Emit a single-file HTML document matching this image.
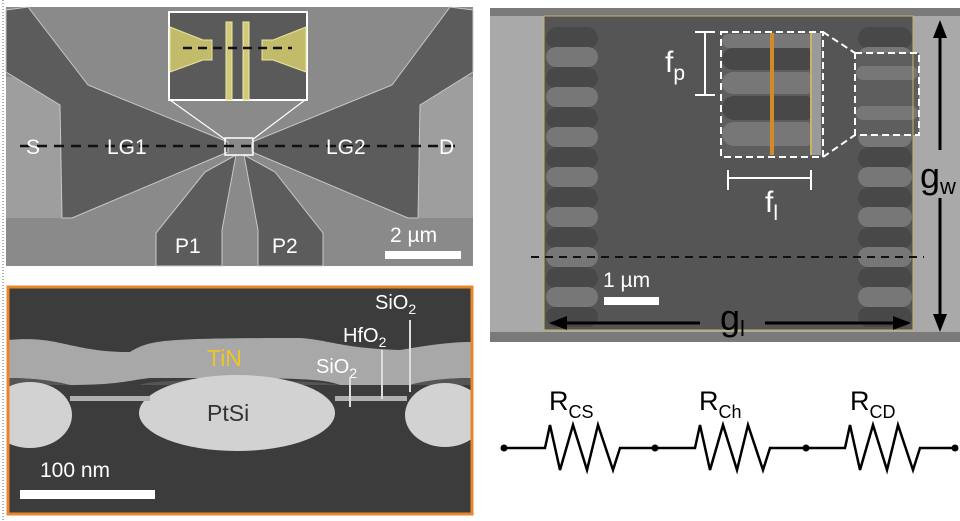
<!DOCTYPE html>
<html><head><meta charset="utf-8"><style>
html,body{margin:0;padding:0;background:#fff;}
svg{display:block;font-family:"Liberation Sans",sans-serif;}
</style></head><body>
<svg width="960" height="521" viewBox="0 0 960 521" xmlns="http://www.w3.org/2000/svg">
<defs><clipPath id="c2"><rect x="8" y="287" width="464" height="227"/></clipPath></defs>
<line x1="3" y1="0" x2="3" y2="521" stroke="#666" stroke-width="1" stroke-dasharray="1,2"/>
<!-- Panel 1 -->
<rect x="6" y="7" width="467" height="259" fill="#8a8a8a"/>
<rect x="6" y="77" width="56" height="141" fill="#9e9e9e"/>
<rect x="418" y="77" width="55" height="141" fill="#9e9e9e"/>
<polygon points="6,10 28,7 88,85 228,142 228,152 72,218 62,218 60,105 6,72" fill="#5c5c5c" stroke="#c8c8c8" stroke-width="1"/>
<polygon points="473,10 450,7 392,85 252,142 252,152 408,218 418,218 420,105 473,72" fill="#5c5c5c" stroke="#c8c8c8" stroke-width="1"/>
<polygon points="156,266 156,233 205,172 236,155 222,230 222,266" fill="#5c5c5c" stroke="#c8c8c8" stroke-width="1"/>
<polygon points="258,266 258,230 244,155 275,172 323,233 323,266" fill="#5c5c5c" stroke="#c8c8c8" stroke-width="1"/>
<line x1="170" y1="100" x2="226" y2="140" stroke="#fff" stroke-width="1.2"/>
<line x1="305" y1="100" x2="252" y2="140" stroke="#fff" stroke-width="1.2"/>
<rect x="169" y="12" width="138" height="88" fill="#5a5a5a" stroke="#fff" stroke-width="2"/>
<polygon points="170,27 203,40 212,40 212,60 203,60 170,72" fill="#c2bc6a" stroke="#e8e4a0"/>
<polygon points="306,27 273,40 262,40 262,60 273,60 306,72" fill="#c2bc6a" stroke="#e8e4a0"/>
<rect x="226" y="22" width="6" height="78" fill="#d0ca78" stroke="#eee8b0"/>
<rect x="243" y="22" width="6" height="78" fill="#d0ca78" stroke="#eee8b0"/>
<line x1="183" y1="48" x2="292" y2="48" stroke="#111" stroke-width="2.5" stroke-dasharray="9,6"/>
<rect x="225" y="138" width="28" height="17" fill="none" stroke="#fff" stroke-width="1.5"/>
<line x1="20" y1="146" x2="455" y2="146" stroke="#111" stroke-width="2.5" stroke-dasharray="10,7"/>
<g fill="#fff" font-size="21">
<text x="26" y="154">S</text><text x="107" y="154">LG1</text>
<text x="326" y="154">LG2</text><text x="439" y="154">D</text>
<text x="175" y="253">P1</text><text x="272" y="253">P2</text>
<text x="390" y="242">2 µm</text>
</g>
<rect x="385" y="251" width="76" height="8" fill="#fff"/>
<!-- Panel 2 -->
<rect x="8" y="287" width="464" height="227" fill="#3c3c3c"/>
<g clip-path="url(#c2)">
<path d="M8,340 C60,335 70,352 130,352 C150,340 160,338 300,338 C330,340 340,348 400,350 C430,345 450,342 472,342 L472,378 C440,378 420,382 410,385 L340,385 C320,378 300,378 150,378 C130,380 120,385 70,385 C50,380 30,378 8,378 Z" fill="#a8a8a8"/>
<path d="M8,378 C30,378 50,380 70,385 L140,385 C150,378 300,378 340,385 L410,385 C420,382 440,378 472,378 L472,385 L8,385 Z" fill="#555"/>
<ellipse cx="30" cy="415" rx="42" ry="33" fill="#d2d2d2"/>
<ellipse cx="237" cy="413" rx="98" ry="38" fill="#d2d2d2"/>
<ellipse cx="445" cy="415" rx="40" ry="32" fill="#d2d2d2"/>
<rect x="70" y="396" width="80" height="5" fill="#b0b0b0"/>
<rect x="335" y="396" width="72" height="5" fill="#b0b0b0"/>
</g>
<rect x="8" y="287" width="464" height="227" fill="none" stroke="#e8862c" stroke-width="3"/>
<text x="207" y="366" fill="#f0c428" font-size="23">TiN</text>
<text x="207" y="421" fill="#333" font-size="23">PtSi</text>
<g fill="#fff" font-size="20">
<text x="375" y="309">SiO<tspan font-size="14" dy="5">2</tspan></text>
<text x="343" y="342">HfO<tspan font-size="14" dy="5">2</tspan></text>
<text x="316" y="373">SiO<tspan font-size="14" dy="5">2</tspan></text>
<text x="40" y="477" font-size="21">100 nm</text>
</g>
<line x1="350" y1="377" x2="350" y2="407" stroke="#ddd" stroke-width="2"/>
<line x1="382" y1="350" x2="382" y2="399" stroke="#ddd" stroke-width="2"/>
<line x1="410" y1="320" x2="410" y2="392" stroke="#ddd" stroke-width="2"/>
<rect x="20" y="490" width="135" height="9" fill="#fff"/>
<!-- Panel 3 -->
<rect x="490" y="8" width="470" height="334" fill="#a9a9a9"/>
<rect x="490" y="8" width="470" height="8" fill="#7a7a7a"/>
<rect x="490" y="332" width="470" height="10" fill="#7a7a7a"/>
<rect x="544" y="16" width="369" height="314" fill="#555"/>
<g fill="#484848">
<rect x="546" y="27" width="52" height="22" rx="11"/><rect x="546" y="67" width="52" height="22" rx="11"/><rect x="546" y="107" width="52" height="22" rx="11"/><rect x="546" y="147" width="52" height="22" rx="11"/><rect x="546" y="187" width="52" height="22" rx="11"/><rect x="546" y="227" width="52" height="22" rx="11"/><rect x="546" y="267" width="52" height="22" rx="11"/><rect x="546" y="307" width="52" height="20" rx="10"/>
<rect x="858" y="27" width="54" height="22" rx="11"/><rect x="858" y="67" width="54" height="22" rx="11"/><rect x="858" y="107" width="54" height="22" rx="11"/><rect x="858" y="147" width="54" height="22" rx="11"/><rect x="858" y="187" width="54" height="22" rx="11"/><rect x="858" y="227" width="54" height="22" rx="11"/><rect x="858" y="267" width="54" height="22" rx="11"/><rect x="858" y="307" width="54" height="20" rx="10"/>
</g>
<g fill="#777">
<rect x="546" y="47" width="52" height="20" rx="10"/><rect x="546" y="87" width="52" height="20" rx="10"/><rect x="546" y="127" width="52" height="20" rx="10"/><rect x="546" y="167" width="52" height="20" rx="10"/><rect x="546" y="207" width="52" height="20" rx="10"/><rect x="546" y="247" width="52" height="20" rx="10"/><rect x="546" y="287" width="52" height="20" rx="10"/>
<rect x="858" y="47" width="54" height="20" rx="10"/><rect x="858" y="87" width="54" height="20" rx="10"/><rect x="858" y="127" width="54" height="20" rx="10"/><rect x="858" y="167" width="54" height="20" rx="10"/><rect x="858" y="207" width="54" height="20" rx="10"/><rect x="858" y="247" width="54" height="20" rx="10"/><rect x="858" y="287" width="54" height="20" rx="10"/>
</g>
<rect x="721" y="32" width="102" height="125" fill="#5e5e5e"/>
<g fill="#484848"><rect x="722" y="48" width="95" height="22" rx="11"/><rect x="722" y="96" width="95" height="24" rx="12"/></g>
<g fill="#777"><rect x="722" y="34" width="95" height="14" rx="7"/><rect x="722" y="72" width="95" height="22" rx="11"/><rect x="722" y="122" width="95" height="24" rx="12"/></g>
<rect x="855" y="53" width="64" height="82" fill="#5e5e5e"/>
<g fill="#777"><rect x="856" y="66" width="62" height="14" rx="7"/><rect x="856" y="106" width="62" height="14" rx="7"/></g>
<rect x="544" y="16" width="369" height="314" fill="none" stroke="#c8b464" stroke-width="1"/>
<rect x="770" y="33" width="4" height="122" fill="#d08a2c"/>
<rect x="810" y="33" width="2" height="122" fill="#c8b464"/>
<rect x="812" y="33" width="9" height="122" fill="#999"/>
<g fill="none" stroke="#fff" stroke-width="2" stroke-dasharray="7,4">
<rect x="721" y="32" width="102" height="125"/>
<rect x="855" y="53" width="64" height="82"/>
<polyline points="823,32 855,53"/><polyline points="823,157 855,135"/>
</g>
<g stroke="#fff" stroke-width="2">
<line x1="705" y1="32" x2="705" y2="95"/><line x1="695" y1="32" x2="715" y2="32"/><line x1="695" y1="95" x2="715" y2="95"/>
<line x1="728" y1="178" x2="811" y2="178"/><line x1="728" y1="170" x2="728" y2="190"/><line x1="811" y1="170" x2="811" y2="190"/>
</g>
<text x="665" y="72" fill="#fff" font-size="30">f<tspan font-size="21" dy="8">p</tspan></text>
<text x="765" y="212" fill="#fff" font-size="30">f<tspan font-size="21" dy="8">l</tspan></text>
<line x1="531" y1="257" x2="924" y2="257" stroke="#111" stroke-width="2" stroke-dasharray="8,6"/>
<text x="603" y="287" fill="#fff" font-size="21">1 µm</text>
<rect x="604" y="297" width="55" height="8" fill="#fff"/>
<g stroke="#000" stroke-width="3">
<line x1="940" y1="35" x2="940" y2="150"/><line x1="940" y1="198" x2="940" y2="318"/>
<line x1="565" y1="323" x2="700" y2="323"/><line x1="765" y1="323" x2="895" y2="323"/>
</g>
<g fill="#000">
<polygon points="940,20 933,38 947,38"/><polygon points="940,332 933,314 947,314"/>
<polygon points="549,323 567,316 567,330"/><polygon points="911,323 893,316 893,330"/>
</g>
<text x="920" y="188" fill="#000" font-size="36">g<tspan font-size="22" dy="6">w</tspan></text>
<text x="720" y="330" fill="#000" font-size="36">g<tspan font-size="22" dy="6">l</tspan></text>
<!-- circuit -->
<polyline fill="none" stroke="#000" stroke-width="2.5" stroke-linejoin="miter" points="504,448 545,448 550,425 560,470 573,425 587,470 598,425 613,470 620,448 695,448 700,425 710,470 723,425 737,470 748,425 763,470 770,448 845,448 850,425 860,470 873,425 887,470 898,425 913,470 920,448 955,448"/>
<g fill="#000"><circle cx="504" cy="448" r="3.5"/><circle cx="655" cy="448" r="3.5"/><circle cx="806" cy="448" r="3.5"/><circle cx="955" cy="448" r="3.5"/></g>
<g fill="#000" font-size="27">
<text x="549" y="410">R<tspan font-size="18" dy="8">CS</tspan></text>
<text x="699" y="410">R<tspan font-size="18" dy="8">Ch</tspan></text>
<text x="850" y="410">R<tspan font-size="18" dy="8">CD</tspan></text>
</g>
</svg>
</body></html>
